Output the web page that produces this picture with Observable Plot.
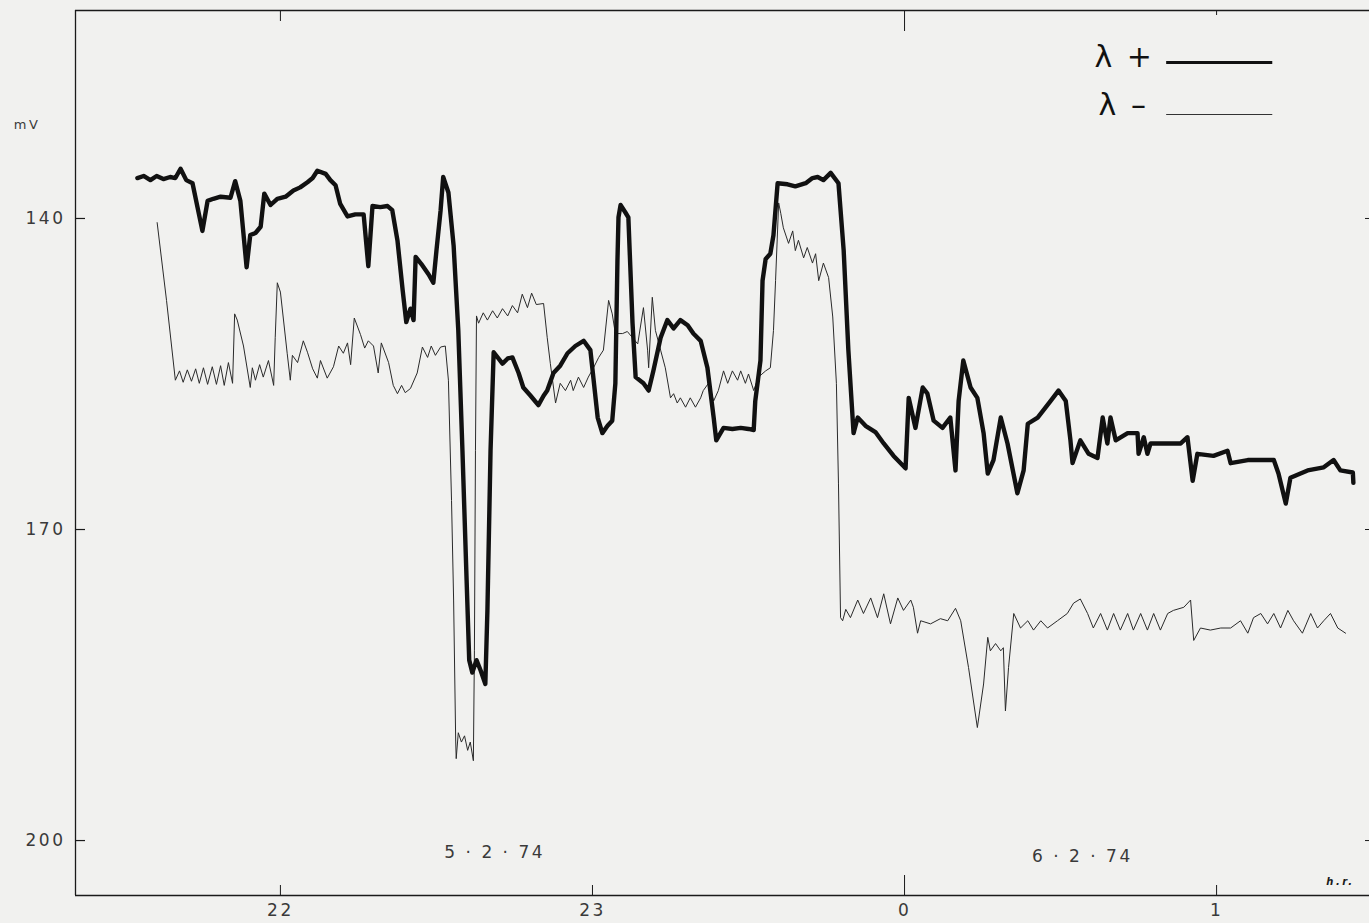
<!DOCTYPE html>
<html><head><meta charset="utf-8">
<script src="https://cdn.jsdelivr.net/npm/d3@7"></script>
<script src="https://cdn.jsdelivr.net/npm/@observablehq/plot@0.6"></script>
<style>
html,body{margin:0;padding:0;background:#f1f1ef;}
#chart svg{display:block;}
#chart svg text{letter-spacing:2.5px;}
</style></head><body><div id="chart"></div>
<script>
// time in minutes after 22:00 (5.2.74), potential in mV
const plusTime = [-27.5,-26.3,-25.0,-23.8,-22.5,-21.2,-20.2,-19.2,-18.1,-16.9,
-15.0,-14.0,-12.9,-11.5,-9.6,-8.7,-7.7,-6.5,-5.8,-4.8,
-3.8,-3.1,-1.9,-0.6,1.0,2.5,3.8,5.2,6.2,7.1,
8.7,9.6,10.6,11.5,12.9,14.4,16.0,16.9,17.7,19.2,
20.6,21.5,22.5,23.5,24.2,25.0,25.6,26.0,27.1,28.5,
29.4,30.0,30.8,31.3,32.3,33.3,34.2,35.0,35.8,36.3,
36.9,37.7,38.5,39.4,39.8,40.4,41.0,42.7,43.7,44.6,
45.8,46.7,48.1,49.6,50.6,51.3,52.5,53.8,55.2,56.7,
58.3,59.6,61.0,61.9,62.9,63.8,64.4,64.8,65.0,65.4,
66.3,66.9,67.7,68.3,69.8,70.8,71.7,73.1,74.4,75.6,
76.9,78.3,79.4,80.8,82.1,83.3,83.8,85.2,86.9,88.5,
90.0,91.0,91.3,92.3,92.7,93.3,94.2,94.8,95.6,97.5,
99.0,101.0,102.3,103.3,104.4,105.8,107.3,108.3,109.2,110.2,
111.0,112.5,114.4,116.0,117.9,120.2,120.8,122.1,123.5,124.4,
125.6,127.3,128.8,129.8,130.4,131.3,132.7,134.0,135.2,136.0,
137.1,138.5,139.8,141.7,142.9,143.7,145.6,148.1,149.6,151.0,
151.9,152.3,153.8,155.4,157.1,158.1,159.0,159.6,160.6,162.9,
164.8,165.0,166.0,166.7,167.3,169.8,173.1,174.4,175.4,176.3,
179.4,182.1,182.7,186.0,191.0,191.9,193.3,194.2,197.5,200.6,
202.5,203.8,206.2,206.3];
const plusMV = [136.1,135.9,136.3,135.9,136.2,136.0,136.1,135.2,136.3,136.6,
141.2,138.3,138.1,137.9,138.0,136.4,138.3,144.7,141.6,141.4,
140.8,137.6,138.7,138.1,137.9,137.3,137.0,136.5,136.1,135.4,
135.7,136.3,136.8,138.6,139.8,139.6,139.6,144.6,138.8,138.9,
138.8,139.2,142.1,146.9,150.0,148.7,149.8,143.7,144.4,145.4,
146.2,143.1,139.2,136.0,137.5,142.6,150.8,162.4,174.9,182.6,
183.8,182.6,183.6,184.9,177.8,162.4,152.9,154.0,153.5,153.4,
154.9,156.3,157.1,158.0,157.1,156.6,154.9,154.2,153.0,152.3,
151.8,152.7,159.2,160.7,160.0,159.5,155.9,144.1,139.9,138.7,
139.4,139.9,150.1,155.3,155.9,156.6,154.7,151.5,149.8,150.6,
149.8,150.3,151.1,151.8,154.4,159.2,161.4,160.2,160.3,160.2,
160.3,160.4,157.6,153.7,146.0,143.9,143.4,141.6,136.6,136.7,
136.9,136.6,136.1,136.0,136.3,135.6,136.6,143.1,152.7,160.7,
159.2,160.0,160.6,161.7,162.9,164.1,157.3,160.2,156.3,156.9,
159.5,160.2,159.2,164.3,157.6,153.7,156.3,157.3,160.7,164.6,
163.3,159.2,161.7,166.5,164.3,159.8,159.2,157.6,156.6,157.6,
161.4,163.6,161.4,162.7,163.1,159.2,161.7,159.2,161.4,160.7,
160.7,162.7,161.1,162.7,161.7,161.7,161.7,161.1,165.3,162.7,
162.9,162.4,163.6,163.3,163.3,164.6,167.5,165.0,164.3,164.0,
163.3,164.3,164.5,165.5];
const minusTime = [-23.7,-21.9,-20.2,-19.4,-18.7,-17.9,-17.1,-16.3,-15.6,-14.8,
-14.0,-13.1,-12.3,-11.5,-10.8,-10.0,-9.2,-8.8,-8.3,-7.1,
-5.8,-5.4,-4.8,-4.0,-3.3,-2.3,-1.3,-1.0,-0.6,0,
1.3,1.9,2.3,3.3,4.4,5.2,6.2,7.1,7.7,9.0,
10.2,11.2,12.1,12.9,13.5,14.2,15.4,16.2,16.9,17.9,
18.8,19.4,20.8,21.7,22.5,23.3,24.0,25.0,26.3,27.3,
28.3,29.0,29.8,30.8,31.7,32.3,32.9,33.3,33.7,33.8,
34.2,34.8,35.4,36.0,36.5,37.1,37.3,37.5,37.7,38.1,
39.0,39.8,40.8,41.7,42.7,43.7,44.6,45.6,46.5,47.5,
48.3,49.2,50.6,51.3,51.9,52.9,53.8,54.8,55.8,56.3,
57.3,58.3,59.2,60.2,61.2,62.1,63.1,63.8,64.4,65.8,
66.7,67.7,68.7,69.8,70.6,70.8,71.5,72.1,73.1,74.0,
75.0,75.6,76.3,76.9,77.9,78.8,79.8,80.8,81.3,82.3,
83.3,84.2,85.2,86.0,86.9,87.9,88.5,89.4,90.0,91.0,
91.9,93.3,94.2,94.8,95.2,95.8,96.2,96.7,97.7,98.5,
99.0,99.6,100.6,101.3,102.3,102.9,103.5,104.4,105.4,106.2,
106.9,107.3,107.7,108.1,108.7,109.6,111.0,112.1,113.5,114.8,
116.0,117.3,118.7,119.8,121.2,121.7,122.5,123.1,125.0,126.9,
128.3,129.8,130.8,132.3,134.0,135.2,136.0,136.5,137.5,138.5,
139.0,139.4,140.0,141.0,142.3,143.7,144.8,146.2,147.5,149.4,
151.3,152.5,153.8,155.2,156.3,157.7,159.0,160.2,161.5,162.9,
164.0,165.4,166.7,167.9,169.2,170.6,171.7,173.7,175.0,175.6,
176.9,178.8,180.8,182.7,184.6,186.0,187.1,188.5,189.8,191.0,
192.3,193.7,194.8,196.5,198.1,199.4,200.6,201.9,203.3,204.8];
const minusMV = [140.4,147.9,155.6,154.7,155.8,154.6,155.7,154.5,155.9,154.4,
156.0,154.3,156.0,154.2,156.1,153.9,155.9,149.2,149.8,152.3,
156.3,154.4,155.6,154.1,155.3,153.7,156.1,151.5,146.2,147.1,
153.0,155.6,153.2,153.9,151.8,152.9,154.5,155.4,153.7,155.4,
154.3,152.3,153.0,152.0,154.1,149.6,151.2,152.5,151.8,152.3,
154.9,152.0,153.9,156.1,156.9,156.1,156.8,156.4,154.9,152.4,
153.4,152.3,153.2,152.4,152.3,155.6,167.2,176.8,190.4,192.1,
189.6,190.5,189.9,191.3,190.5,192.3,181.7,162.4,149.4,150.1,
149.1,149.8,148.9,149.6,148.7,149.4,148.4,149.1,147.3,148.6,
147.2,148.3,148.2,151.5,154.0,157.8,155.9,156.6,155.6,156.6,
155.3,156.3,155.3,154.4,153.4,152.7,147.9,149.2,151.1,151.1,
150.9,151.5,152.1,148.6,152.7,154.4,147.6,150.8,152.7,154.4,
157.3,156.9,157.8,157.3,158.2,157.3,158.2,157.3,156.6,155.9,
157.6,156.6,154.7,155.9,154.7,155.6,154.7,155.9,155.0,156.6,
155.3,154.7,154.4,150.8,146.0,138.5,139.5,140.9,142.4,141.2,
143.1,142.1,143.8,142.8,144.3,143.4,146.0,144.3,145.7,149.5,
155.9,165.6,178.5,178.8,177.7,178.5,176.8,178.1,176.6,178.5,
176.2,179.1,176.6,177.8,176.8,177.5,180.0,178.8,179.1,178.6,
178.8,177.6,178.8,183.3,189.1,184.9,180.4,181.7,181.0,181.7,
181.4,187.5,183.3,178.1,179.5,178.8,179.7,178.8,179.5,178.8,
178.1,177.1,176.7,178.1,179.5,178.1,179.7,178.1,179.7,178.1,
179.7,178.1,179.7,178.1,179.7,178.1,177.8,177.5,176.8,180.7,
179.5,179.7,179.5,179.5,178.8,180.0,178.5,178.1,179.1,178.1,
179.5,177.8,178.8,180.0,178.1,179.5,178.8,178.1,179.5,180.0];

const hourTicks = [0, 60, 120, 180];
const hourLabels = ["22", "23", "0", "1"];
const mvTicks = [140, 170, 200];
const xDomain = [-39.4, 209.4];
const yDomain = [119.94, 205.3];

const dateLabels = [
  {t: 41.2, mV: 201.2, label: "5 · 2 · 74"},
  {t: 154.2, mV: 201.5, label: "6 · 2 · 74"}
];
const unitLabel = [{t: -48.7, mV: 131.0, label: "mV"}];
const cornerLabel = [{t: 203.8, mV: 204.0, label: "h.r."}];
const legendText = [
  {t: 162.3, mV: 124.5, label: "λ +"},
  {t: 162.1, mV: 129.1, label: "λ –"}
];
const legendPlus = [{t1: 170.4, t2: 190.8, mV: 124.95}];
const legendMinus = [{t1: 170.4, t2: 190.8, mV: 129.97}];

function zip(ts, vs) {
  const n = Math.min(ts.length, vs.length);
  return d3.range(n).map(i => ({t: ts[i], mV: vs[i]}));
}
const plus = zip(plusTime, plusMV);
const minus = zip(minusTime, minusMV);

const ink = "#1a1a1a";
const labelInk = "#3a3a3a";
const font = "'DejaVu Sans', 'Liberation Sans', sans-serif";

const chart = Plot.plot({
  width: 1369, height: 923,
  marginLeft: 75, marginRight: 0, marginTop: 10, marginBottom: 28,
  x: {domain: xDomain, label: null},
  y: {domain: yDomain, reverse: true, label: null},
  style: {background: "transparent", fontFamily: font, color: labelInk},
  marks: [
    // frame lines
    Plot.ruleX([xDomain[0]], {stroke: ink, strokeWidth: 1.3}),
    Plot.ruleY([yDomain[0]], {stroke: ink, strokeWidth: 1.3}),
    Plot.ruleY([yDomain[1]], {stroke: ink, strokeWidth: 1.3}),
    // y axis
    Plot.axisY(mvTicks, {anchor: "left", tickSize: 0, tickPadding: 10, fontSize: 17, fill: labelInk, label: null}),
    Plot.axisY(mvTicks, {anchor: "left", tickSize: -10, tickFormat: () => "", stroke: ink, strokeWidth: 1.2, label: null}),
    Plot.axisY(mvTicks, {anchor: "right", tickSize: -5, tickFormat: () => "", stroke: ink, label: null}),
    // x axis
    Plot.axisX(hourTicks, {anchor: "bottom", tickSize: 0, tickPadding: 8, fontSize: 17, fill: labelInk,
      tickFormat: d => hourLabels[hourTicks.indexOf(d)], label: null}),
    Plot.axisX([0, 60, 180], {anchor: "bottom", tickSize: -10, tickFormat: () => "", stroke: ink, label: null}),
    Plot.axisX([120], {anchor: "bottom", tickSize: -20, tickFormat: () => "", stroke: ink, label: null}),
    Plot.axisX([0], {anchor: "top", tickSize: -10, tickFormat: () => "", stroke: ink, label: null}),
    Plot.axisX([120], {anchor: "top", tickSize: -20, tickFormat: () => "", stroke: ink, label: null}),
    Plot.axisX([180], {anchor: "top", tickSize: -4, tickFormat: () => "", stroke: ink, label: null}),
    // traces
    Plot.line(minus, {x: "t", y: "mV", stroke: "#2a2a2a", strokeWidth: 1.0, strokeLinejoin: "round"}),
    Plot.line(plus, {x: "t", y: "mV", stroke: "#111", strokeWidth: 4.4, strokeLinejoin: "round", strokeLinecap: "round"}),
    // annotations
    Plot.text(dateLabels, {x: "t", y: "mV", text: "label", fontSize: 17, fill: labelInk}),
    Plot.text(unitLabel, {x: "t", y: "mV", text: "label", fontSize: 13, fill: labelInk}),
    Plot.text(cornerLabel, {x: "t", y: "mV", text: "label", fontSize: 10, fontStyle: "italic", fontWeight: "bold", fill: ink}),
    // legend
    Plot.text(legendText, {x: "t", y: "mV", text: "label", fontSize: 30, fill: "#111"}),
    Plot.ruleY(legendPlus, {y: "mV", x1: "t1", x2: "t2", stroke: "#111", strokeWidth: 3}),
    Plot.ruleY(legendMinus, {y: "mV", x1: "t1", x2: "t2", stroke: "#333", strokeWidth: 1.2})
  ]
});
document.getElementById("chart").appendChild(chart);
</script>
</body></html>
